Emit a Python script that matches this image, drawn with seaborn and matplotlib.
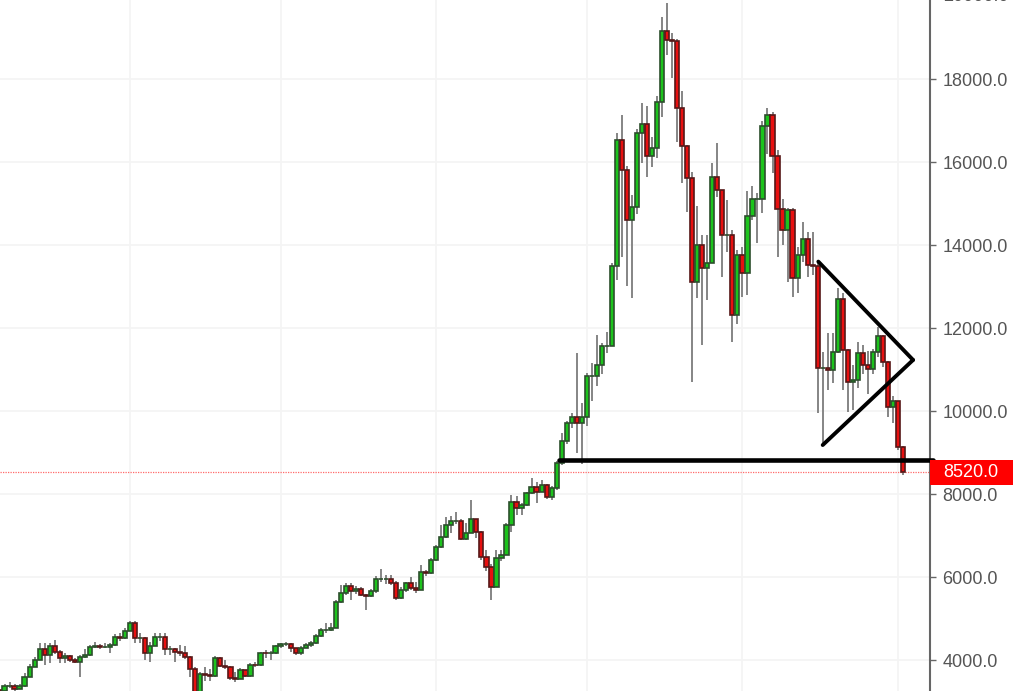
import numpy as np
import pandas as pd
import matplotlib
matplotlib.use("Agg")
import matplotlib.pyplot as plt
import matplotlib.dates as mdates
import matplotlib.transforms as mtransforms
from matplotlib.patches import Rectangle
import seaborn as sns


# datas das velas diarias (ago/2017 ate fev/2018)
dias = pd.date_range("2017-08-06", "2018-02-02", freq="D")

abertura_inicial = 3280

# fechamentos, mes a mes
fech_ago = [3250, 3373, 3385, 3310, 3380, 3600, 3840, 4000, 4265, 4120, 4345, 4200, 4050,
            4100, 4000, 3960, 4080, 4120, 4320, 4330, 4310, 4320, 4360, 4560, 4530, 4705]
fech_set = [4885, 4520, 4530, 4160, 4345, 4560, 4560, 4260, 4260, 4200, 4180, 4080, 3775,
            3150, 3655, 3640, 3620, 4055, 3855, 3840, 3575, 3540, 3760, 3620, 3880, 3870,
            4175, 4160, 4160, 4345]
fech_out = [4380, 4380, 4290, 4175, 4290, 4360, 4400, 4580, 4725, 4725, 4760, 5405, 5607,
            5785, 5670, 5700, 5565, 5545, 5670, 5945, 5945, 5945, 5865, 5490, 5690, 5850,
            5730, 5690, 6130, 6100, 6410]
fech_nov = [6715, 6970, 7255, 7350, 7350, 6905, 7050, 7390, 7095, 6475, 6235, 5765, 6450,
            6530, 7255, 7800, 7655, 7735, 8015, 8175, 8055, 8215, 7920, 8135, 8740, 9285,
            9705, 9865, 9705, 9865]
fech_dez = [10845, 10845, 11110, 11570, 11570, 13500, 16535, 15810, 14600, 14925, 16710,
            16910, 16155, 16330, 17450, 19145, 18930, 18905, 17300, 16375, 15610, 13120,
            14000, 13440, 13560, 15650, 15330, 14245, 14245, 12315, 13760]
fech_jan = [13320, 14690, 15105, 15105, 16870, 17130, 16155, 14870, 14360, 14840, 13200,
            13760, 14140, 13520, 13500, 11030, 11030, 11000, 11430, 12690, 11470, 10710,
            10750, 11390, 11110, 11005, 11430, 11815, 11190, 10105, 10250]
fech_fev = [9140, 8520]

# maximas
max_ago = [3290, 3420, 3480, 3420, 3420, 3680, 3900, 4080, 4410, 4415, 4420, 4480, 4250,
           4160, 4130, 4060, 4120, 4260, 4370, 4440, 4380, 4410, 4400, 4620, 4660, 4760]
max_set = [4950, 4930, 4640, 4560, 4440, 4650, 4650, 4650, 4330, 4300, 4360, 4330, 4100,
           3820, 3700, 3840, 3780, 4100, 4080, 4000, 3860, 3700, 3800, 3770, 3920, 3960,
           4200, 4240, 4220, 4370]
max_out = [4420, 4440, 4400, 4300, 4340, 4420, 4450, 4620, 4760, 4890, 4880, 5440, 5810,
           5850, 5865, 5780, 5760, 5600, 5720, 6030, 6185, 6050, 6050, 5900, 5750, 5890,
           5990, 5880, 6290, 6180, 6460]
max_nov = [6760, 7255, 7455, 7480, 7575, 7400, 7300, 7855, 7400, 7120, 6650, 6320, 6650,
           6660, 7300, 7975, 7950, 7790, 8060, 8380, 8280, 8330, 8250, 8200, 8800, 9470,
           9770, 9940, 11400, 10200]
max_dez = [10920, 11150, 11830, 11640, 11910, 13560, 16700, 17130, 15900, 15200, 16800,
           17420, 17350, 16600, 17600, 19500, 19830, 19110, 18960, 17700, 16400, 15770,
           14940, 14240, 14240, 15985, 16450, 15330, 15090, 14360, 13880]
max_jan = [13960, 15290, 15410, 15250, 17000, 17300, 17200, 16300, 15100, 14900, 14890,
           13960, 14560, 14320, 14320, 13590, 11430, 11870, 11870, 12960, 12840, 11500,
           11100, 11670, 11600, 11450, 11500, 12030, 11830, 11200, 10350]
max_fev = [10250, 9150]

# minimas
min_ago = [3200, 3250, 3330, 3250, 3300, 3360, 3580, 3820, 3990, 3880, 3930, 4150, 3930,
           3930, 3960, 3920, 3590, 4060, 4100, 4280, 4270, 4290, 4165, 4340, 4460, 4510]
min_set = [4690, 4410, 4420, 4000, 3950, 4330, 4450, 4130, 4120, 3960, 4100, 4020, 3580,
           3100, 2980, 3500, 3500, 3600, 3820, 3780, 3520, 3477, 3540, 3590, 3600, 3830,
           3860, 4050, 4000, 4150]
min_out = [4300, 4330, 4200, 4120, 4120, 4280, 4320, 4390, 4560, 4650, 4700, 4760, 5380,
           5560, 5445, 5600, 5540, 5200, 5520, 5620, 5890, 5840, 5800, 5450, 5460, 5650,
           5680, 5620, 5680, 6030, 6080]
min_nov = [6380, 6700, 6950, 7060, 7280, 6880, 6900, 7050, 6950, 6400, 6150, 5445, 5800,
           6380, 6530, 7090, 7500, 7495, 7700, 8000, 7785, 8040, 7880, 7850, 8090, 8700,
           9200, 9600, 8990, 8720]
min_dez = [9650, 10250, 10600, 10900, 11400, 11560, 13160, 13710, 13010, 12720, 14750,
           15970, 15640, 15880, 16100, 17090, 18580, 18030, 16490, 15500, 14800, 10710,
           12720, 11590, 12680, 13570, 15150, 13240, 13840, 11670, 12100]
min_jan = [12755, 12800, 14600, 14040, 14770, 16200, 15730, 13710, 14000, 13100, 12750,
           12840, 13600, 13240, 13280, 9950, 9180, 10510, 10670, 11400, 10510, 9985,
           10025, 10550, 10900, 10400, 10900, 11300, 11050, 9860, 9710]
min_fev = [9060, 8460]

preco_atual = 8520

# linhas desenhadas a mao (triangulo e suporte)
tri_datas = ["2018-01-16 03:00", "2018-02-04 00:00", "2018-01-17 00:00"]
tri_precos = [13600, 11230, 9180]
suporte_datas = ["2017-11-25 12:00", "2018-02-08 00:00"]
suporte_preco = 8820

niveis = [4000, 6000, 8000, 10000, 12000, 14000, 16000, 18000]

dados = pd.DataFrame({
    "data": dias,
    "fechamento": fech_ago + fech_set + fech_out + fech_nov + fech_dez + fech_jan + fech_fev,
    "maxima": max_ago + max_set + max_out + max_nov + max_dez + max_jan + max_fev,
    "minima": min_ago + min_set + min_out + min_nov + min_dez + min_jan + min_fev,
})
# cada vela abre no fechamento anterior
dados["abertura"] = dados["fechamento"].shift(1).fillna(abertura_inicial)

x = mdates.date2num(dados["data"])
alta = dados["fechamento"] >= dados["abertura"]
cor_corpo = np.where(alta, "#1cc41c", "#e81010")
cor_borda = np.where(alta, "#2c4f2c", "#561818")

sns.set_theme(style="white")
plt.rcParams["font.family"] = ["Liberation Sans", "DejaVu Sans"]

fig = plt.figure(figsize=(10.2, 6.91), dpi=100)
ax = fig.add_axes([0, 0, 930 / 1020, 1])

# pavios
ax.vlines(x, dados["minima"], dados["maxima"], color="#858585", linewidth=1.4, zorder=2)
# corpos
ax.bar(x, dados["fechamento"] - dados["abertura"], bottom=dados["abertura"], width=0.84,
       color=cor_corpo, edgecolor=cor_borda, linewidth=1.2, zorder=3)

# linha pontilhada do preco atual
ax.axhline(preco_atual, color="#ff6a6a", linestyle=(0, (1, 1)), linewidth=0.9, zorder=1)

# triangulo
t = mdates.date2num(pd.to_datetime(tri_datas))
ax.plot([t[0], t[1]], [tri_precos[0], tri_precos[1]], color="black", linewidth=2.8,
        solid_capstyle="round", zorder=5)
ax.plot([t[2], t[1]], [tri_precos[2], tri_precos[1]], color="black", linewidth=2.8,
        solid_capstyle="round", zorder=5)
s = mdates.date2num(pd.to_datetime(suporte_datas))
ax.plot(s, [suporte_preco, suporte_preco], color="black", linewidth=3.3, zorder=5,
        clip_on=False)

# eixos
inicio = mdates.date2num(pd.Timestamp("2017-09-01")) - 25.9
fim = mdates.date2num(pd.Timestamp("2018-02-01")) + 6.375
ax.set_xlim(inicio, fim)
ax.set_ylim(3253, 19904)

meses = pd.date_range("2017-09-01", "2018-02-01", freq="MS")
ax.set_xticks(mdates.date2num(meses))
ax.set_yticks(niveis)
ax.set_yticklabels([f"{v:.1f}" for v in niveis])
ax.grid(True, color="#f4f4f4", linewidth=1.2)
ax.set_axisbelow(True)

ax.yaxis.tick_right()
ax.tick_params(axis="x", length=0, labelbottom=False)
ax.tick_params(axis="y", right=True, length=4, width=1, color="#666666", pad=5,
               labelsize=13, labelcolor="#555555")
for lado in ["top", "left", "bottom"]:
    ax.spines[lado].set_visible(False)
ax.spines["right"].set_color("#666666")
ax.spines["right"].set_linewidth(1.5)

misto = mtransforms.blended_transform_factory(ax.transAxes, ax.transData)
ax.text(1 + 13 / 930, 20000, "20000.0", transform=misto, ha="left", va="center",
        fontsize=13, color="#555555", clip_on=False)

# etiqueta vermelha do preco
ax.add_patch(Rectangle((1.0, preco_atual - 300), 83 / 930, 600, transform=misto,
                       facecolor="#ff0000", edgecolor="none", clip_on=False, zorder=6))
ax.text(1 + 13 / 930, preco_atual, f"{preco_atual:.1f}", transform=misto, ha="left",
        va="center", fontsize=13, color="white", clip_on=False, zorder=7)

fig.savefig("out.png", dpi=100)
